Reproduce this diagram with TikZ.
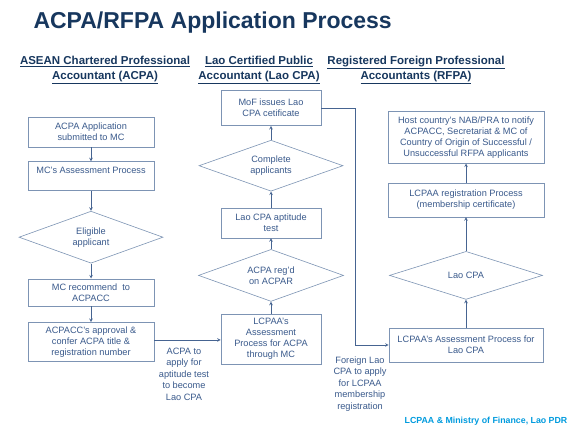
\documentclass[tikz,border=0pt]{standalone}
\usepackage{fontspec}
\setmainfont{Liberation Sans}
\usepackage{tikz}
\usetikzlibrary{shapes,arrows,positioning,calc}
\definecolor{lpnavy}{RGB}{23,55,94}
\definecolor{lptext}{RGB}{58,90,140}
\definecolor{lpframe}{RGB}{125,148,180}
\definecolor{lpline}{RGB}{70,100,145}
\definecolor{lpsky}{RGB}{0,155,222}

\begin{document}
\begin{tikzpicture}[
    x=1pt, y=1pt,
    every node/.style={font=\fontsize{9.2}{11}\selectfont, text=lptext},
    box/.style={rectangle, draw=lpframe, line width=0.6pt, align=center, minimum width=126pt, inner sep=1pt},
    decision/.style={diamond, draw=lpframe, line width=0.6pt, align=center, aspect=2.8, inner sep=0pt, minimum width=144pt, minimum height=52pt},
    heading/.style={font=\fontsize{11.5}{15}\selectfont\bfseries, text=lpnavy, align=center},
    note/.style={align=center, font=\fontsize{9.2}{11.5}\selectfont},
    arrow/.style={->, >=stealth, draw=lpline, line width=0.6pt}
]
\path[fill=white] (0,0) rectangle (577,-433);
\useasboundingbox (0,0) rectangle (577,-433);

\node[anchor=west, font=\fontsize{23}{26}\selectfont\bfseries, text=lpnavy] (title) at (30,-23) {ACPA/RFPA Application Process};

\node[heading] (headacpa) at (105,-70) {\underline{ASEAN Chartered Professional}\\\underline{Accountant (ACPA)}};
\node[heading] (headlao) at (259,-70) {\underline{Lao Certified Public}\\\underline{Accountant (Lao CPA)}};
\node[heading] (headrfpa) at (416,-70) {\underline{Registered Foreign Professional}\\\underline{Accountants (RFPA)}};

% ACPA column
\node[box, minimum height=30pt] (appl) at (91,-132) {ACPA Application\\submitted to MC};
\node[box, minimum height=29pt, below=14pt of appl] (mcassess) {MC’s Assessment Process\\\phantom{X}};
\node[decision, below=20pt of mcassess] (eligible) {Eligible\\applicant};
\node[box, minimum height=27pt, below=15pt of eligible] (recommend) {MC recommend\ \ to\\ACPACC};
\node[box, minimum height=39pt, below=16pt of recommend] (approval) {ACPACC’s approval \&\\confer ACPA title \&\\registration number};

% Lao CPA column
\node[box, minimum width=100pt, minimum height=50pt] (lcpaa) at (271,-339) {LCPAA’s\\Assessment\\Process for ACPA\\through MC};
\node[decision, minimum width=145pt, above=12pt of lcpaa] (acpar) {ACPA reg’d\\on ACPAR};
\node[box, minimum width=100pt, minimum height=30pt, above=11pt of acpar] (aptitude) {Lao CPA aptitude\\test};
\node[decision, minimum height=51pt, above=16pt of aptitude] (complete) {Complete\\applicants};
\node[box, minimum width=100pt, minimum height=35pt, above=14pt of complete] (mof) {MoF issues Lao\\CPA cetificate};

% RFPA column
\node[box, minimum width=154pt, minimum height=34pt] (rassess) at (466,-345) {LCPAA’s Assessment Process for\\Lao CPA};
\node[decision, minimum width=153pt, minimum height=48pt, above=28pt of rassess] (laocpa) {Lao CPA};
\node[box, minimum width=156pt, minimum height=34pt, above=34pt of laocpa] (registration) {LCPAA registration Process\\(membership certificate)};
\node[box, minimum width=156pt, minimum height=52pt, above=19pt of registration] (notify) {Host country’s NAB/PRA to notify\\ACPACC, Secretariat \& MC of\\Country of Origin of Successful /\\Unsuccessful RFPA applicants};

\node[note] (toaptitude) at (184,-374) {ACPA to\\apply for\\aptitude test\\to become\\Lao CPA};
\node[note] (toforeign) at (360,-384) {Foreign Lao\\CPA to apply\\for LCPAA\\membership\\registration};

\node[font=\fontsize{8.8}{10}\selectfont\bfseries, text=lpsky] (footer) at (486,-421) {LCPAA \& Ministry of Finance, Lao PDR};

\draw[arrow] (appl) -- (mcassess);
\draw[arrow] (mcassess) -- (eligible);
\draw[arrow] (eligible) -- (recommend);
\draw[arrow] (recommend) -- (approval);
\draw[arrow] ([yshift=2pt]approval.east) -- ([yshift=2pt]approval.east -| lcpaa.west);
\draw[arrow] (lcpaa) -- (acpar);
\draw[arrow] (acpar) -- (aptitude);
\draw[arrow] (aptitude) -- (complete);
\draw[arrow] (complete) -- (mof);
\draw[arrow] (mof.east) -- ++(34,0) |- (rassess.west);
\draw[arrow] (rassess) -- (laocpa);
\draw[arrow] (laocpa) -- (registration);
\draw[arrow] (registration) -- (notify);

\end{tikzpicture}
\end{document}
